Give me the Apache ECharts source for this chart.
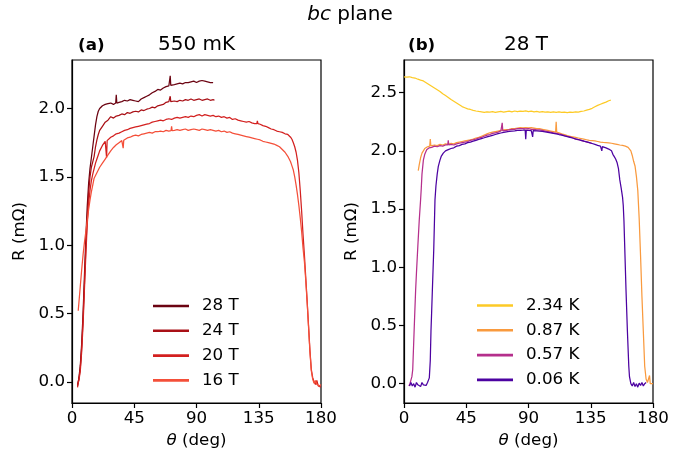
<!DOCTYPE html>
<html><head><meta charset="utf-8">
<script src="https://cdn.jsdelivr.net/npm/echarts@6/dist/echarts.min.js"></script>
<style>html,body{margin:0;padding:0;background:#fff}#c{width:700px;height:458px}</style>
</head><body><div id="c"></div><script>
// ---------- data ----------
const xTicks = [0, 45, 90, 135, 180];
const yTicksA = [0, 0.5, 1.0, 1.5, 2.0];
const yTicksB = [0, 0.5, 1.0, 1.5, 2.0, 2.5];
const namesA = ['28 T', '24 T', '20 T', '16 T'];
const namesB = ['2.34 K', '0.87 K', '0.57 K', '0.06 K'];
const colorsA = ['#6b0311', '#a91016', '#d3201f', '#f44f39'];
const colorsB = ['#fdca26', '#f99a3e', '#b52f8c', '#4c02a1'];

// panel (a): [theta (deg), R (mOhm)]
const r28T = [[4,-0.03],[4.5,0.0],[5,0.03],[6,0.12],[7,0.28],[8,0.5],[9,0.78],[10,1.05],[11,1.28],[12,1.45],[13,1.56],[14,1.64],[15,1.72],[16,1.8],[17,1.88],[18,1.94],[19,1.98],[20,2.0],[22,2.02],[24,2.03],[26,2.035],[28,2.04],[30,2.03],[31.6,2.04],[32,2.10],[32.4,2.04],[34,2.045],[36,2.05],[38,2.06],[40,2.055],[42,2.065],[44,2.06],[46,2.055],[48,2.05],[50,2.07],[52,2.08],[54,2.09],[56,2.10],[58,2.115],[60,2.125],[62,2.14],[64,2.135],[66,2.15],[68,2.16],[70,2.165],[70.6,2.17],[71,2.24],[71.4,2.17],[72,2.17],[74,2.175],[76,2.18],[78,2.185],[80,2.18],[82,2.19],[84,2.19],[86,2.195],[88,2.2],[90,2.19],[92,2.2],[94,2.205],[96,2.2],[98,2.195],[100,2.19],[102,2.19]];
const r24T = [[4,-0.02],[4.5,0.0],[5,0.02],[6,0.1],[7,0.25],[8,0.46],[9,0.72],[10,0.98],[11,1.2],[12,1.38],[13,1.5],[14,1.57],[15,1.61],[16,1.65],[17,1.72],[18,1.77],[19,1.81],[20,1.84],[22,1.87],[24,1.9],[26,1.915],[28,1.94],[30,1.93],[32,1.945],[34,1.95],[36,1.96],[38,1.955],[40,1.97],[42,1.965],[44,1.975],[46,1.98],[48,1.975],[50,1.99],[52,1.985],[54,1.995],[56,2.0],[58,2.01],[60,2.005],[62,2.02],[64,2.025],[66,2.03],[68,2.045],[70,2.05],[70.6,2.05],[71,2.09],[71.4,2.05],[72,2.05],[74,2.055],[76,2.05],[78,2.06],[80,2.055],[82,2.065],[84,2.06],[86,2.07],[88,2.06],[90,2.065],[92,2.07],[94,2.06],[96,2.065],[98,2.07],[100,2.06],[102,2.065],[103,2.06]];
const r20T = [[4,-0.04],[4.5,-0.01],[5,0.01],[6,0.08],[7,0.22],[8,0.42],[9,0.68],[10,0.93],[11,1.15],[12,1.3],[13,1.4],[14,1.47],[15,1.52],[16,1.56],[17,1.6],[18,1.63],[19,1.66],[20,1.69],[22,1.73],[24,1.76],[24.6,1.76],[25,1.64],[25.4,1.765],[26,1.77],[28,1.79],[30,1.8],[32,1.815],[34,1.82],[36,1.83],[38,1.84],[40,1.845],[42,1.855],[44,1.86],[46,1.865],[48,1.87],[50,1.875],[52,1.88],[54,1.885],[56,1.89],[58,1.9],[60,1.905],[62,1.91],[64,1.915],[66,1.91],[68,1.92],[70,1.925],[72,1.92],[74,1.93],[76,1.935],[78,1.93],[80,1.935],[82,1.94],[84,1.935],[86,1.945],[88,1.94],[90,1.95],[92,1.955],[94,1.945],[96,1.955],[98,1.95],[100,1.945],[102,1.95],[104,1.94],[106,1.945],[108,1.935],[110,1.94],[112,1.93],[114,1.935],[116,1.92],[118,1.925],[120,1.915],[122,1.91],[124,1.905],[126,1.9],[128,1.905],[130,1.895],[132,1.89],[133.6,1.89],[134,1.91],[134.4,1.89],[136,1.885],[138,1.875],[140,1.87],[142,1.86],[144,1.85],[146,1.845],[148,1.835],[150,1.83],[152,1.825],[154,1.815],[156,1.81],[157,1.8],[158,1.79],[159,1.775],[160,1.75],[161,1.72],[162,1.68],[163,1.62],[164,1.53],[165,1.4],[166,1.25],[167,1.08],[168,0.93],[169,0.76],[170,0.59],[171,0.41],[172,0.23],[173,0.09],[174,0.03],[175,0.0],[176,-0.02],[177,0.01],[178,-0.03],[179,-0.02],[180,-0.04]];
const r16T = [[4.5,0.52],[5,0.58],[6,0.7],[7,0.82],[8,0.93],[9,1.02],[10,1.1],[11,1.18],[12,1.26],[13,1.33],[14,1.39],[15,1.44],[16,1.49],[18,1.53],[20,1.57],[22,1.6],[24,1.63],[26,1.66],[28,1.69],[30,1.715],[32,1.735],[34,1.75],[36,1.765],[36.6,1.765],[37,1.71],[37.4,1.767],[38,1.77],[40,1.785],[42,1.79],[44,1.8],[46,1.805],[48,1.8],[50,1.81],[52,1.815],[54,1.82],[56,1.825],[58,1.82],[60,1.83],[62,1.83],[64,1.835],[66,1.83],[68,1.84],[70,1.835],[71.6,1.838],[72,1.87],[72.4,1.838],[74,1.84],[76,1.845],[78,1.84],[80,1.845],[82,1.85],[84,1.84],[86,1.845],[88,1.85],[90,1.845],[92,1.84],[94,1.85],[96,1.845],[98,1.84],[100,1.845],[102,1.84],[104,1.835],[106,1.84],[108,1.83],[110,1.835],[112,1.825],[114,1.83],[116,1.82],[118,1.815],[120,1.81],[122,1.805],[124,1.8],[126,1.795],[128,1.79],[130,1.785],[132,1.78],[134,1.775],[136,1.77],[138,1.76],[140,1.755],[142,1.75],[144,1.745],[146,1.74],[148,1.73],[150,1.72],[152,1.7],[154,1.68],[156,1.65],[158,1.61],[159,1.58],[160,1.55],[161,1.5],[162,1.44],[163,1.37],[164,1.29],[165,1.2],[166,1.1],[167,0.98],[168,0.88],[169,0.74],[170,0.58],[171,0.4],[172,0.22],[173,0.08],[174,0.02],[175,-0.01],[176,0.01],[177,-0.02],[178,-0.01],[179,-0.03],[180,-0.02]];

// panel (b)
const r234K = [[0,2.635],[2,2.632],[4,2.636],[6,2.628],[8,2.625],[10,2.615],[12,2.607],[14,2.6],[16,2.585],[18,2.57],[20,2.555],[22,2.54],[24,2.525],[26,2.51],[28,2.49],[30,2.475],[32,2.458],[34,2.44],[36,2.425],[38,2.41],[40,2.395],[42,2.38],[44,2.37],[46,2.36],[48,2.355],[50,2.348],[52,2.342],[54,2.338],[56,2.335],[58,2.33],[60,2.334],[62,2.332],[64,2.336],[66,2.33],[68,2.335],[70,2.338],[72,2.332],[74,2.337],[76,2.34],[78,2.335],[80,2.342],[82,2.337],[84,2.341],[86,2.338],[88,2.343],[90,2.336],[92,2.34],[94,2.335],[96,2.338],[98,2.333],[100,2.336],[102,2.332],[104,2.335],[106,2.33],[108,2.334],[110,2.331],[112,2.335],[114,2.33],[116,2.333],[118,2.329],[120,2.332],[122,2.33],[124,2.334],[126,2.332],[128,2.338],[130,2.342],[132,2.35],[134,2.356],[136,2.365],[138,2.378],[140,2.39],[142,2.4],[144,2.41],[146,2.418],[148,2.43],[149.5,2.436]];
const r087K = [[10.3,1.83],[11,1.88],[12,1.94],[13,1.98],[14,2.0],[15,2.02],[16,2.03],[17,2.035],[18,2.04],[18.6,2.04],[19,2.1],[19.4,2.042],[20,2.045],[22,2.05],[24,2.045],[26,2.055],[28,2.05],[30,2.06],[32,2.055],[34,2.065],[36,2.06],[38,2.07],[40,2.075],[42,2.08],[44,2.085],[46,2.09],[48,2.095],[50,2.1],[52,2.11],[54,2.115],[56,2.125],[58,2.135],[60,2.145],[62,2.155],[64,2.16],[66,2.165],[68,2.17],[70,2.175],[72,2.18],[74,2.183],[76,2.185],[78,2.19],[80,2.19],[82,2.195],[84,2.2],[86,2.197],[88,2.2],[90,2.197],[92,2.2],[94,2.195],[96,2.19],[98,2.19],[100,2.185],[102,2.18],[104,2.175],[106,2.17],[108,2.165],[109.6,2.16],[110,2.25],[110.4,2.16],[112,2.155],[114,2.145],[116,2.14],[118,2.13],[120,2.125],[122,2.12],[124,2.115],[126,2.11],[128,2.105],[130,2.1],[132,2.095],[134,2.09],[136,2.088],[138,2.085],[140,2.08],[142,2.075],[144,2.072],[146,2.07],[148,2.068],[150,2.065],[152,2.06],[154,2.055],[156,2.05],[158,2.046],[160,2.04],[161,2.034],[162,2.03],[163,2.02],[164,2.0],[165,1.96],[166,1.91],[167,1.87],[168,1.78],[169,1.66],[170,1.42],[171,1.1],[172,0.75],[173,0.45],[174,0.15],[175,0.04],[176,0.01],[177,0.0],[177.5,0.07],[178,0.0],[179,-0.01],[180,0.0]];
const r057K = [[3.5,-0.02],[4.3,0.0],[5,0.03],[5.7,0.06],[6.3,0.12],[7,0.35],[7.7,0.58],[8.4,0.8],[9,0.95],[10,1.18],[11,1.4],[12,1.58],[12.5,1.68],[13,1.8],[14,1.92],[15,1.97],[16.4,2.01],[18,2.025],[20,2.03],[22,2.04],[24,2.035],[26,2.045],[28,2.04],[30,2.05],[31.6,2.05],[32,2.09],[32.4,2.05],[34,2.055],[36,2.05],[38,2.06],[40,2.065],[42,2.07],[44,2.075],[46,2.08],[48,2.09],[50,2.095],[52,2.1],[54,2.11],[56,2.115],[58,2.125],[60,2.135],[62,2.14],[64,2.15],[66,2.155],[68,2.16],[70,2.17],[70.6,2.17],[71,2.24],[71.4,2.172],[72,2.172],[74,2.175],[76,2.18],[78,2.185],[80,2.185],[82,2.19],[84,2.19],[86,2.19],[88,2.188],[90,2.19],[92,2.185],[94,2.185],[96,2.18],[98,2.18],[100,2.175],[102,2.17],[104,2.165],[106,2.16],[108,2.155],[110,2.15],[112,2.145],[114,2.14],[116,2.13],[118,2.125],[120,2.12],[122,2.11],[124,2.1],[126,2.097],[128,2.09],[130,2.083],[132,2.077],[134,2.07],[136,2.063]];
const r006K = [[4,-0.02],[5,0.01],[6,-0.02],[7,0.0],[8,-0.03],[9,0.01],[10,-0.01],[11,0.0],[12,-0.025],[13,0.01],[14,-0.01],[15,0.0],[16,-0.015],[17,0.01],[18,0.02],[18.3,0.05],[19,0.2],[19.5,0.45],[20,0.62],[20.5,0.8],[21.5,1.15],[22.4,1.58],[23.1,1.7],[24,1.8],[24.8,1.867],[26,1.92],[27,1.955],[28.4,1.98],[30,2.0],[32,2.01],[34,2.02],[36,2.026],[38,2.04],[40,2.045],[42,2.055],[44,2.06],[46,2.07],[48,2.075],[50,2.083],[52,2.09],[54,2.098],[56,2.105],[58,2.112],[60,2.12],[62,2.126],[64,2.133],[66,2.14],[68,2.147],[70,2.153],[72,2.158],[74,2.163],[76,2.166],[78,2.17],[80,2.172],[82,2.175],[84,2.176],[86,2.177],[87.6,2.178],[88,2.1],[88.4,2.176],[90,2.175],[92,2.174],[92.6,2.174],[93,2.12],[93.4,2.173],[94,2.173],[96,2.172],[98,2.17],[100,2.166],[102,2.163],[104,2.159],[106,2.155],[108,2.15],[110,2.146],[112,2.14],[114,2.135],[116,2.128],[118,2.122],[120,2.116],[122,2.11],[124,2.103],[126,2.097],[128,2.09],[130,2.083],[132,2.077],[134,2.07],[136,2.063],[138,2.055],[140,2.047],[142,2.04],[142.6,2.038],[143,2.0],[143.4,2.036],[144,2.035],[146,2.025],[148,2.015],[150,2.0],[151,1.97],[152,1.95],[153,1.93],[154,1.9],[155,1.85],[156,1.75],[157,1.68],[158,1.6],[158.5,1.53],[159,1.4],[159.5,1.2],[160,1.0],[160.5,0.8],[161.5,0.45],[162.5,0.15],[163,0.06],[164,0.0],[165,-0.02],[166,0.01],[167,-0.025],[168,0.0],[169,-0.03],[170,0.005],[171,-0.015],[172,0.01],[173,-0.02],[174,0.0],[175,0.01]];

const seriesA = [r28T, r24T, r20T, r16T];
const seriesB = [r234K, r087K, r057K, r006K];

// ---------- chart ----------
const FONT = 'DejaVu Sans';
const FS = 16.7;
const chart = echarts.init(document.getElementById('c'), null, {renderer: 'canvas'});

function xAx(gi) {
  return {
    gridIndex: gi, type: 'value', min: 0, max: 180, interval: 45,
    name: '{i|θ} (deg)', nameLocation: 'middle', nameGap: 28,
    nameTextStyle: {fontFamily: FONT, fontSize: FS, color: '#000',
      rich: {i: {fontFamily: FONT, fontSize: FS, fontStyle: 'italic', color: '#000'}}},
    axisLine: {show: true, onZero: false, lineStyle: {color: '#000', width: 1.2}},
    axisTick: {show: true, inside: false, length: 5, customValues: xTicks, lineStyle: {color: '#000', width: 1.2}},
    axisLabel: {color: '#000', fontFamily: FONT, fontSize: FS, margin: 7, customValues: xTicks},
    splitLine: {show: false}
  };
}
function yAx(gi, mn, mx, ticks) {
  return {
    gridIndex: gi, type: 'value', min: mn, max: mx,
    name: 'R (mΩ)', nameLocation: 'middle', nameGap: 44,
    nameTextStyle: {fontFamily: FONT, fontSize: FS, color: '#000'},
    axisLine: {show: true, onZero: false, lineStyle: {color: '#000', width: 1.2}},
    axisTick: {show: true, inside: false, length: 5, customValues: ticks, lineStyle: {color: '#000', width: 1.2}},
    axisLabel: {color: '#000', fontFamily: FONT, fontSize: FS, margin: 7, customValues: ticks,
      formatter: v => Number(v).toFixed(1)},
    splitLine: {show: false}
  };
}
function legendOf(names, left, top) {
  return {
    data: names, orient: 'vertical', left: left, top: top, padding: 0,
    itemWidth: 36, itemHeight: 2.6, itemGap: 4.8, icon: 'rect', selectedMode: false,
    textStyle: {fontFamily: FONT, fontSize: FS, color: '#000', lineHeight: 20, padding: [0, 0, 0, 8]}
  };
}
function mk(name, data, color, gi) {
  return {
    type: 'line', name: name, data: data, xAxisIndex: gi, yAxisIndex: gi,
    showSymbol: false, symbol: 'none', silent: true,
    lineStyle: {width: 1.25, color: color}, itemStyle: {color: color},
    emphasis: {disabled: true}
  };
}
const titleStyle = (size, weight) => ({fontFamily: FONT, fontSize: size, fontWeight: weight, color: '#000'});

const option = {
  animation: false,
  backgroundColor: '#fff',
  title: [
    {text: '{i|bc} plane', left: 350, top: 5, textAlign: 'center', padding: 0,
      textStyle: Object.assign(titleStyle(20, 'normal'), {rich: {i: {fontFamily: FONT, fontSize: 20, fontStyle: 'italic', color: '#000'}}})},
    {text: '(a)', left: 78, top: 37, padding: 0, textStyle: titleStyle(FS, 'bold')},
    {text: '550 mK', left: 196.5, top: 35, textAlign: 'center', padding: 0, textStyle: titleStyle(20, 'normal')},
    {text: '(b)', left: 408, top: 37, padding: 0, textStyle: titleStyle(FS, 'bold')},
    {text: '28 T', left: 526, top: 35, textAlign: 'center', padding: 0, textStyle: titleStyle(20, 'normal')}
  ],
  grid: [
    {left: 72, top: 60, width: 249, height: 343, show: true, borderColor: '#000', borderWidth: 1.2, backgroundColor: 'transparent'},
    {left: 404, top: 60, width: 249, height: 343, show: true, borderColor: '#000', borderWidth: 1.2, backgroundColor: 'transparent'}
  ],
  xAxis: [xAx(0), xAx(1)],
  yAxis: [yAx(0, -0.155, 2.355, yTicksA), yAx(1, -0.166, 2.78, yTicksB)],
  legend: [legendOf(namesA, 153, 296), legendOf(namesB, 477, 295.5)],
  series: [
    ...seriesA.map((d, i) => mk(namesA[i], d, colorsA[i], 0)),
    ...seriesB.map((d, i) => mk(namesB[i], d, colorsB[i], 1))
  ]
};
chart.setOption(option);
</script></body></html>
